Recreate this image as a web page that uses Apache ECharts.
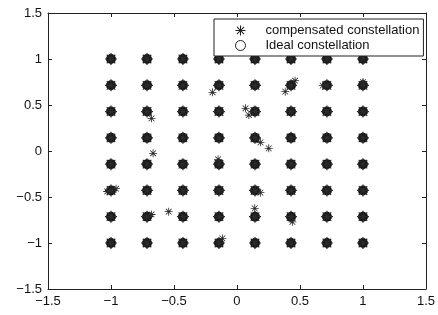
<!DOCTYPE html>
<html>
<head>
<meta charset="utf-8">
<script src="https://cdn.jsdelivr.net/npm/echarts@6/dist/echarts.min.js"></script>
<style>
  html, body { margin: 0; padding: 0; background: #fff; }
  #main { width: 438px; height: 315px; }
</style>
</head>
<body>
<div id="main"></div>
<script>
// 64-QAM levels (ideal constellation grid)
var levels = [-1, -0.714, -0.429, -0.143, 0.143, 0.429, 0.714, 1];
// compensated points that sit away from the ideal ones
var outliers = [
  [-0.678, 0.355], [-0.666, -0.025], [-0.194, 0.638],
  [0.461, 0.764], [0.383, 0.645], [0.068, 0.464], [0.094, 0.391],
  [0.186, 0.094], [0.252, 0.029], [-0.542, -0.66],
  [0.186, -0.453], [0.141, -0.623], [-0.116, -0.95],
  [-0.678, -0.69], [-1.03, -0.44], [-0.96, -0.41],
  [1.0, 0.75], [0.68, 0.71], [0.44, -0.77], [-0.15, -0.09]
];

var ideal = [];
levels.forEach(function (y) {
  levels.forEach(function (x) { ideal.push([x, y]); });
});

var asterisk = 'path://M9,0L11,0L11,20L9,20Z M0,9L20,9L20,11L0,11Z ' +
  'M2.2,3.6L3.6,2.2L17.8,16.4L16.4,17.8Z M16.4,2.2L17.8,3.6L3.6,17.8L2.2,16.4Z';

var fmt = function (v) { return String(v).replace('-', '\u2212'); };
var axisCommon = {
  type: 'value', min: -1.5, max: 1.5, interval: 0.5,
  splitLine: { show: false },
  axisLine: { show: true, onZero: false, lineStyle: { color: '#222', width: 1 } },
  axisTick: { show: true, inside: true, length: 4, lineStyle: { color: '#222' } }
};

var myChart = echarts.init(document.getElementById('main'));
myChart.setOption({
  animation: false,
  textStyle: { fontFamily: 'Liberation Sans, Arial, sans-serif' },
  grid: { left: 48, right: 8, top: 13, bottom: 26 },
  xAxis: [
    Object.assign({}, axisCommon, {
      position: 'bottom',
      axisLabel: { color: '#111', fontSize: 13, margin: 6, formatter: fmt }
    }),
    Object.assign({}, axisCommon, { position: 'top', axisLabel: { show: false } })
  ],
  yAxis: [
    Object.assign({}, axisCommon, {
      position: 'left',
      axisLabel: { color: '#111', fontSize: 13, margin: 6, formatter: fmt }
    }),
    Object.assign({}, axisCommon, { position: 'right', axisLabel: { show: false } })
  ],
  legend: {
    orient: 'vertical',
    left: 214, top: 19,
    padding: [5, 4, 4, 21],
    itemWidth: 40, itemHeight: 10, itemGap: 2,
    backgroundColor: '#fff',
    borderColor: '#222', borderWidth: 1,
    textStyle: { color: '#111', fontSize: 13 },
    data: [
      { name: 'compensated constellation', icon: asterisk, itemStyle: { color: '#222' } },
      { name: 'Ideal constellation', icon: 'circle',
        itemStyle: { color: '#fff', borderColor: '#222', borderWidth: 1 } }
    ]
  },
  series: [
    {
      name: 'Ideal constellation',
      type: 'scatter',
      symbol: 'circle',
      symbolSize: 10,
      itemStyle: { color: '#151515', opacity: 1 },
      data: ideal,
      z: 2
    },
    {
      // compensated points landing on the ideal ones
      name: 'compensated constellation',
      type: 'scatter',
      symbol: asterisk,
      symbolSize: 12,
      itemStyle: { color: '#2a2a2a', opacity: 1 },
      data: ideal,
      z: 3
    },
    {
      name: 'compensated constellation',
      type: 'scatter',
      symbol: asterisk,
      symbolSize: 8,
      itemStyle: { color: '#2a2a2a', opacity: 1 },
      data: outliers,
      z: 3
    }
  ]
});
</script>
</body>
</html>
